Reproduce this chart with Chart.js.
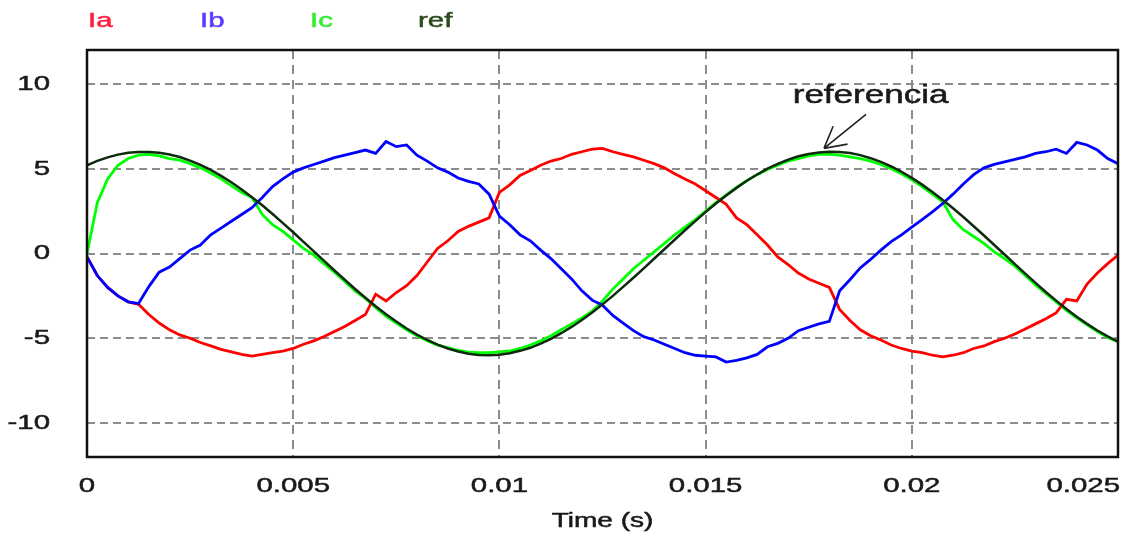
<!DOCTYPE html>
<html>
<head>
<meta charset="utf-8">
<title>Ia Ib Ic ref</title>
<script src="https://cdn.jsdelivr.net/npm/chart.js@4.4.1/dist/chart.umd.min.js"></script>
<style>
  html, body { margin: 0; padding: 0; background: #fff; }
  #wrap { position: relative; width: 1123px; height: 534px; }
</style>
</head>
<body>
<div id="wrap"><canvas id="currents"></canvas></div>
<script>
// ---- data (time step 0.25 ms) ----
const times = [
  0, 0.00025, 0.0005, 0.00075, 0.001, 0.00125, 0.0015, 0.00175, 0.002, 0.00225,
  0.0025, 0.00275, 0.003, 0.00325, 0.0035, 0.00375, 0.004, 0.00425, 0.0045, 0.00475,
  0.005, 0.00525, 0.0055, 0.00575, 0.006, 0.00625, 0.0065, 0.00675, 0.007, 0.00725,
  0.0075, 0.00775, 0.008, 0.00825, 0.0085, 0.00875, 0.009, 0.00925, 0.0095, 0.00975,
  0.01, 0.01025, 0.0105, 0.01075, 0.011, 0.01125, 0.0115, 0.01175, 0.012, 0.01225,
  0.0125, 0.01275, 0.013, 0.01325, 0.0135, 0.01375, 0.014, 0.01425, 0.0145, 0.01475,
  0.015, 0.01525, 0.0155, 0.01575, 0.016, 0.01625, 0.0165, 0.01675, 0.017, 0.01725,
  0.0175, 0.01775, 0.018, 0.01825, 0.0185, 0.01875, 0.019, 0.01925, 0.0195, 0.01975,
  0.02, 0.02025, 0.0205, 0.02075, 0.021, 0.02125, 0.0215, 0.02175, 0.022, 0.02225,
  0.0225, 0.02275, 0.023, 0.02325, 0.0235, 0.02375, 0.024, 0.02425, 0.0245, 0.02475,
  0.025,
];

const ia = [
  -0.2, -1.3, -2.0, -2.5, -2.85, -3.0, -3.6, -4.1, -4.5, -4.8,
  -5.0, -5.25, -5.45, -5.65, -5.8, -5.95, -6.05, -5.95, -5.85, -5.75,
  -5.6, -5.35, -5.15, -4.9, -4.6, -4.3, -3.95, -3.6, -2.4, -2.8,
  -2.3, -1.9, -1.3, -0.5, 0.3, 0.75, 1.3, 1.6, 1.85, 2.1,
  3.6, 4.05, 4.6, 4.9, 5.2, 5.45, 5.6, 5.85, 6.0, 6.15,
  6.2, 6.0, 5.85, 5.7, 5.5, 5.3, 5.05, 4.7, 4.4, 4.1,
  3.7, 3.3, 2.9, 2.1, 1.7, 1.1, 0.5, -0.2, -0.65, -1.15,
  -1.5, -1.75, -2.0, -3.3, -3.95, -4.5, -4.85, -5.1, -5.4, -5.6,
  -5.75, -5.85, -6.0, -6.1, -6.0, -5.85, -5.6, -5.45, -5.2, -5.0,
  -4.75, -4.45, -4.15, -3.85, -3.5, -2.7, -2.8, -1.8, -1.15, -0.6,
  -0.1,
];

const ib = [
  -0.2, -1.3, -2.0, -2.5, -2.85, -2.95, -1.95, -1.1, -0.8, -0.3,
  0.2, 0.5, 1.1, 1.5, 1.9, 2.3, 2.7, 3.3, 3.95, 4.4,
  4.8, 5.05, 5.25, 5.45, 5.65, 5.8, 5.95, 6.1, 5.9, 6.6,
  6.3, 6.4, 5.8, 5.45, 5.05, 4.8, 4.45, 4.25, 4.1, 3.5,
  2.2, 1.7, 1.1, 0.75, 0.2, -0.3, -0.9, -1.5, -2.2, -2.75,
  -3.05, -3.65, -4.1, -4.55, -4.9, -5.1, -5.35, -5.6, -5.85, -6.0,
  -6.05, -6.1, -6.4, -6.3, -6.15, -5.95, -5.5, -5.3, -5.0, -4.55,
  -4.35, -4.15, -4.0, -2.2, -1.55, -0.85, -0.35, 0.2, 0.7, 1.1,
  1.55, 2.0, 2.45, 2.95, 3.5, 4.1, 4.65, 5.05, 5.25, 5.4,
  5.55, 5.7, 5.9, 6.0, 6.15, 5.9, 6.55, 6.4, 6.1, 5.6,
  5.3,
];

const ic = [
  0, 3.0, 4.4, 5.2, 5.6, 5.8, 5.85, 5.75, 5.6, 5.5,
  5.3, 5.05, 4.75, 4.4, 4.0, 3.6, 3.3, 2.3, 1.7, 1.3,
  0.8, 0.3, -0.1, -0.6, -1.1, -1.65, -2.2, -2.65, -3.2, -3.7,
  -4.1, -4.5, -4.85, -5.15, -5.4, -5.55, -5.72, -5.82, -5.85, -5.85,
  -5.8, -5.75, -5.6, -5.4, -5.15, -4.85, -4.5, -4.15, -3.8, -3.4,
  -2.8, -2.1, -1.5, -0.9, -0.4, 0.1, 0.6, 1.1, 1.55, 2.0,
  2.5, 3.0, 3.45, 3.9, 4.3, 4.65, 4.95, 5.2, 5.45, 5.6,
  5.75, 5.85, 5.85, 5.8, 5.7, 5.6, 5.45, 5.25, 5.0, 4.7,
  4.35, 3.95, 3.5, 3.05, 2.0, 1.4, 1.0, 0.6, 0.1, -0.3,
  -0.75, -1.3, -1.85, -2.35, -2.85, -3.35, -3.8, -4.2, -4.6, -4.95,
  -5.2,
];

const ref = [
  5.2, 5.46, 5.67, 5.83, 5.94, 5.99, 5.99, 5.94, 5.84, 5.69,
  5.48, 5.23, 4.93, 4.58, 4.2, 3.78, 3.32, 2.84, 2.33, 1.79,
  1.25, 0.69, 0.13, -0.44, -1.0, -1.55, -2.09, -2.61, -3.11, -3.58,
  -4.01, -4.42, -4.78, -5.1, -5.37, -5.6, -5.78, -5.91, -5.98, -6.0,
  -5.97, -5.88, -5.74, -5.56, -5.32, -5.03, -4.7, -4.33, -3.92, -3.48,
  -3.0, -2.5, -1.97, -1.43, -0.88, -0.31, 0.25, 0.81, 1.37, 1.91,
  2.44, 2.95, 3.42, 3.87, 4.29, 4.66, 5.0, 5.29, 5.53, 5.73,
  5.87, 5.96, 6.0, 5.98, 5.92, 5.8, 5.62, 5.4, 5.13, 4.82,
  4.46, 4.06, 3.63, 3.16, 2.67, 2.15, 1.61, 1.06, 0.5, -0.06,
  -0.63, -1.19, -1.73, -2.27, -2.78, -3.27, -3.73, -4.15, -4.54, -4.89,
  -5.2,
];

const seriesNames = ["Ia", "Ib", "Ic", "ref"];
const xTicks = [0, 0.005, 0.01, 0.015, 0.02, 0.025];
const xTickLabels = ["0", "0.005", "0.01", "0.015", "0.02", "0.025"];
const yTicks = [-10, -5, 0, 5, 10];
const yTickLabels = ["-10", "-5", "0", "5", "10"];
const xTitle = "Time (s)";
const noteText = "referencia";

// annotation anchors in data units (time, value)
const noteLabelAt = [0.019, 9.3];
const noteTailAt = [0.01889, 8.2];
const noteTipAt = [0.01787, 6.2];

// ---- styles ----
const COLORS = ["#ff0000", "#0000ff", "#00ff00", "#0d2a0d"];
const LEGEND_COLORS = ["#ff2040", "#5a3cff", "#33ee33", "#2c4a1c"];
const LEGEND_X = [88, 200, 310, 418];
const FONT = "'Liberation Sans', Arial, sans-serif";
const STRETCH = 1.4; // the reference text is wide, stretch it horizontally

function toPoints(values) {
  return values.map((v, i) => ({ x: times[i], y: v }));
}

function drawStretched(ctx, text, x, y, align, size, color) {
  ctx.save();
  ctx.font = size + "px " + FONT;
  ctx.fillStyle = color;
  ctx.strokeStyle = color;
  ctx.lineWidth = 0.5;
  ctx.textBaseline = "middle";
  ctx.textAlign = "left";
  const w = ctx.measureText(text).width * STRETCH;
  let left = x;
  if (align === "center") left = x - w / 2;
  if (align === "right") left = x - w;
  ctx.translate(left, y);
  ctx.scale(STRETCH, 1);
  ctx.fillText(text, 0, 0);
  ctx.strokeText(text, 0, 0); // a bit heavier, like the original
  ctx.restore();
}

const textPlugin = {
  id: "textPlugin",
  afterDraw(chart) {
    const { ctx, chartArea, scales } = chart;
    const x = scales.x;
    const y = scales.y;

    // frame round the plot
    ctx.save();
    ctx.strokeStyle = "#111";
    ctx.lineWidth = 2.5;
    ctx.strokeRect(
      chartArea.left,
      chartArea.top,
      chartArea.right - chartArea.left,
      chartArea.bottom - chartArea.top
    );
    ctx.restore();

    // y tick labels
    yTicks.forEach((v, i) => {
      drawStretched(ctx, yTickLabels[i], chartArea.left - 37, y.getPixelForValue(v), "right", 21, "#1a1a1a");
    });

    // x tick labels (last one kept inside the picture)
    xTicks.forEach((v, i) => {
      const last = i === xTicks.length - 1;
      const px = last ? chartArea.right + 2 : x.getPixelForValue(v);
      drawStretched(ctx, xTickLabels[i], px, chartArea.bottom + 29, last ? "right" : "center", 21, "#1a1a1a");
    });

    // axis title
    drawStretched(ctx, xTitle, (chartArea.left + chartArea.right) / 2, chartArea.bottom + 64, "center", 20, "#1a1a1a");

    // legend text on top
    seriesNames.forEach((name, i) => {
      drawStretched(ctx, name, LEGEND_X[i], 21, "left", 21, LEGEND_COLORS[i]);
    });

    // "referencia" note with arrow
    drawStretched(ctx, noteText, x.getPixelForValue(noteLabelAt[0]), y.getPixelForValue(noteLabelAt[1]), "center", 25, "#1a1a1a");
    const tx = x.getPixelForValue(noteTailAt[0]);
    const ty = y.getPixelForValue(noteTailAt[1]);
    const hx = x.getPixelForValue(noteTipAt[0]);
    const hy = y.getPixelForValue(noteTipAt[1]);
    const ang = Math.atan2(ty - hy, tx - hx);
    ctx.save();
    ctx.strokeStyle = "#222";
    ctx.lineWidth = 1.6;
    ctx.beginPath();
    ctx.moveTo(tx, ty);
    ctx.lineTo(hx, hy);
    [-0.5, 0.5].forEach((d) => {
      ctx.moveTo(hx, hy);
      ctx.lineTo(hx + 24 * Math.cos(ang + d), hy + 24 * Math.sin(ang + d));
    });
    ctx.stroke();
    ctx.restore();
  },
};

const datasets = [ia, ib, ic, ref].map((values, i) => ({
  label: seriesNames[i],
  data: toPoints(values),
  borderColor: COLORS[i],
  borderWidth: i === 3 ? 2.5 : 2.8,
  pointRadius: 0,
  tension: 0,
  fill: false,
  // ref on top, then Ib, Ia, Ic underneath
  order: [2, 1, 3, 0][i],
}));

new Chart(document.getElementById("currents"), {
  type: "line",
  data: { datasets: datasets },
  options: {
    responsive: true,
    maintainAspectRatio: false,
    animation: false,
    events: [],
    layout: { padding: { top: 50, right: 5, left: 0, bottom: 0 } },
    plugins: {
      legend: { display: false },
      tooltip: { enabled: false },
    },
    scales: {
      x: {
        type: "linear",
        min: 0,
        max: 0.025,
        afterBuildTicks: (scale) => {
          scale.ticks = xTicks.map((v) => ({ value: v }));
        },
        afterFit: (scale) => {
          scale.height = 77;
        },
        ticks: { display: false },
        grid: { color: "#8c8c8c", lineWidth: 2, drawTicks: false },
        border: { display: false, dash: [9, 6] },
      },
      y: {
        type: "linear",
        min: -12,
        max: 12,
        afterBuildTicks: (scale) => {
          scale.ticks = yTicks.map((v) => ({ value: v }));
        },
        afterFit: (scale) => {
          scale.width = 87;
        },
        ticks: { display: false },
        grid: { color: "#8c8c8c", lineWidth: 2, drawTicks: false },
        border: { display: false, dash: [8, 5] },
      },
    },
  },
  plugins: [textPlugin],
});
</script>
</body>
</html>
